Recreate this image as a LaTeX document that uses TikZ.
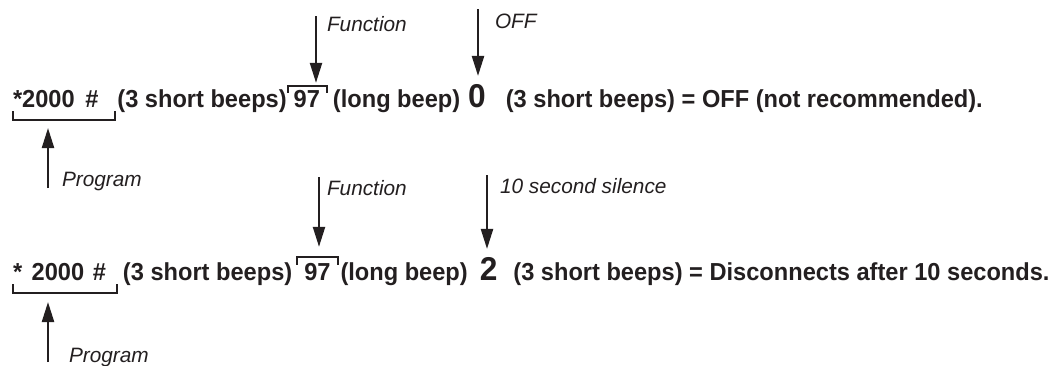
\documentclass[tikz,border=0pt]{standalone}
\usepackage{fontspec}
\setmainfont{Liberation Sans}
\newfontfamily\keyfont{Liberation Sans}[FakeStretch=0.96]
\usetikzlibrary{positioning,arrows.meta}
\definecolor{ink}{RGB}{35,31,32}

\begin{document}
\begin{tikzpicture}[x=0.5pt, y=-0.5pt, every node/.style={text=ink, inner sep=0pt, outer sep=0pt}, keys/.style={font=\keyfont\bfseries\fontsize{12.3}{14}\selectfont}, bigkey/.style={font=\keyfont\bfseries\fontsize{16.5}{18}\selectfont}, note/.style={font=\itshape\fontsize{10.4}{12}\selectfont, anchor=west}, arr/.style={draw=ink, line width=1.1pt, -{Triangle[length=10pt, width=6pt]}}, brk/.style={draw=ink, line width=1pt}]
	\useasboundingbox (0,0) rectangle (1064,365);

	% first line
	\node[keys, anchor=base west] (prog1) at (13,107) {*2000\kern2pt\ \#};
	\node[keys, base right=9.5pt of prog1] (short1) {(3 short beeps)};
	\node[keys, base right=3.5pt of short1] (fn1) {97};
	\node[keys, base right=6.5pt of fn1] (long1) {(long beep)};
	\node[bigkey, base right=4pt of long1] (off1) {0};
	\node[keys, base right=10pt of off1] (rest1) {(3 short beeps) = OFF (not recommended).};

	\coordinate (fnbrk1) at ([yshift=2pt]fn1.north);
	\draw[brk] ([shift={(-3pt,-1.5pt)}]fn1.north west) |- (fnbrk1) -| ([shift={(3.5pt,-1.5pt)}]fn1.north east);
	\draw[brk] ([shift={(0pt,-2pt)}]prog1.base west) |- ([yshift=-6.5pt]prog1.base) -| ([shift={(8.5pt,-2pt)}]prog1.base east);
	\coordinate (progtip1) at ([yshift=-10.5pt]prog1.base);

	\node[note] (fnnote1) at (327,24) {Function};
	\node[note] (offnote1) at (495,21) {OFF};
	\node[note] (prognote1) at (62,181) {Program};
	\coordinate (fntail1) at (316,16);
	\coordinate (offtail1) at (478,9);
	\coordinate (progtail1) at (48,188);

	\draw[arr, shorten >=1.5pt] (fntail1) -- (fntail1 |- fnbrk1);
	\draw[arr, shorten >=4pt] (offtail1) -- (offtail1 |- off1.north);
	\draw[arr] (progtail1) -- (progtail1 |- progtip1);

	% second line
	\node[keys, anchor=base west] (prog2) at (13,280) {*\kern1.5pt\ 2000\kern1pt\ \#};
	\node[keys, base right=8.5pt of prog2] (short2) {(3 short beeps)};
	\node[keys, base right=6pt of short2] (fn2) {97};
	\node[keys, base right=5pt of fn2] (long2) {(long beep)};
	\node[bigkey, base right=6pt of long2] (wait2) {2};
	\node[keys, base right=8pt of wait2] (rest2) {(3 short beeps) = Disconnects after 10 seconds.};

	\coordinate (fnbrk2) at ([yshift=3pt]fn2.north);
	\draw[brk] ([shift={(-3.5pt,-1pt)}]fn2.north west) |- (fnbrk2) -| ([shift={(3.5pt,-1pt)}]fn2.north east);
	\draw[brk] ([shift={(0pt,-2pt)}]prog2.base west) |- ([yshift=-6.5pt]prog2.base) -| ([shift={(5.5pt,-2pt)}]prog2.base east);
	\coordinate (progtip2) at ([yshift=-11pt]prog2.base);

	\node[note] (fnnote2) at (327,188) {Function};
	\node[note] (waitnote2) at (500,186) {10 second silence};
	\node[note] (prognote2) at (69,357) {Program};
	\coordinate (fntail2) at (319,177);
	\coordinate (waittail2) at (487,175);
	\coordinate (progtail2) at (48,362);

	\draw[arr, shorten >=5pt] (fntail2) -- (fntail2 |- fnbrk2);
	\draw[arr, shorten >=4pt] (waittail2) -- (waittail2 |- wait2.north);
	\draw[arr] (progtail2) -- (progtail2 |- progtip2);
\end{tikzpicture}
\end{document}
